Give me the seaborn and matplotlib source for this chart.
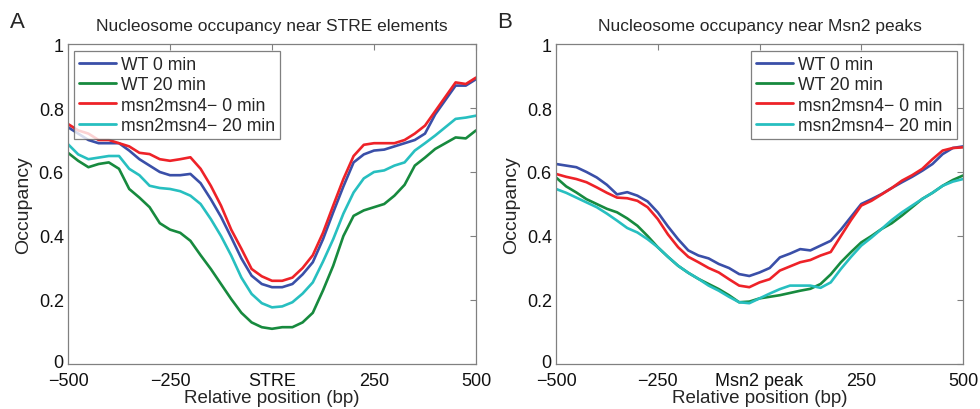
import numpy as np
import pandas as pd
import matplotlib
matplotlib.use("Agg")
import matplotlib.pyplot as plt
import matplotlib.transforms as mtransforms
import seaborn as sns

positions = list(range(-500, 501, 25))

series_names = ["WT 0 min", "WT 20 min", "msn2msn4\u2212 0 min", "msn2msn4\u2212 20 min"]

stre_wt0 = [0.74, 0.72, 0.70, 0.69, 0.69, 0.69, 0.667, 0.64, 0.62, 0.60,
            0.59, 0.59, 0.594, 0.565, 0.515, 0.46, 0.396, 0.33, 0.276, 0.25,
            0.24, 0.24, 0.25, 0.28, 0.318, 0.39, 0.474, 0.555, 0.63, 0.655,
            0.667, 0.67, 0.68, 0.69, 0.70, 0.72, 0.78, 0.825, 0.87, 0.87,
            0.89]
stre_wt20 = [0.66, 0.635, 0.615, 0.625, 0.63, 0.61, 0.547, 0.52, 0.49, 0.44,
             0.42, 0.41, 0.385, 0.34, 0.297, 0.25, 0.203, 0.16, 0.13, 0.115,
             0.11, 0.115, 0.115, 0.13, 0.16, 0.23, 0.307, 0.40, 0.463, 0.48,
             0.49, 0.50, 0.526, 0.56, 0.62, 0.645, 0.672, 0.69, 0.708, 0.705,
             0.73]
stre_msn0 = [0.75, 0.73, 0.72, 0.70, 0.70, 0.69, 0.68, 0.66, 0.656, 0.64,
             0.635, 0.64, 0.646, 0.61, 0.557, 0.495, 0.42, 0.36, 0.297, 0.274,
             0.26, 0.26, 0.27, 0.30, 0.34, 0.41, 0.495, 0.578, 0.65, 0.685,
             0.69, 0.69, 0.69, 0.70, 0.72, 0.745, 0.79, 0.835, 0.88, 0.875,
             0.895]
stre_msn20 = [0.687, 0.655, 0.64, 0.645, 0.65, 0.65, 0.61, 0.59, 0.557, 0.55,
              0.547, 0.54, 0.526, 0.50, 0.453, 0.40, 0.339, 0.27, 0.219, 0.19,
              0.177, 0.18, 0.193, 0.22, 0.255, 0.32, 0.39, 0.47, 0.536, 0.58,
              0.60, 0.605, 0.62, 0.63, 0.667, 0.69, 0.714, 0.74, 0.766, 0.77,
              0.776]

msn_wt0 = [0.625, 0.62, 0.615, 0.60, 0.583, 0.56, 0.53, 0.537, 0.526, 0.508,
           0.474, 0.43, 0.39, 0.355, 0.339, 0.33, 0.3125, 0.30, 0.281, 0.275,
           0.286, 0.30, 0.333, 0.345, 0.359, 0.355, 0.37, 0.385, 0.42, 0.46,
           0.50, 0.515, 0.531, 0.55, 0.568, 0.585, 0.604, 0.625, 0.656, 0.675,
           0.68]
msn_wt20 = [0.583, 0.555, 0.536, 0.515, 0.50, 0.485, 0.474, 0.455, 0.432, 0.40,
            0.365, 0.335, 0.307, 0.285, 0.266, 0.25, 0.234, 0.215, 0.193, 0.195,
            0.205, 0.21, 0.215, 0.222, 0.229, 0.235, 0.25, 0.28, 0.318, 0.35,
            0.38, 0.40, 0.422, 0.44, 0.464, 0.49, 0.516, 0.535, 0.557, 0.575,
            0.589]
msn_msn0 = [0.594, 0.585, 0.578, 0.568, 0.552, 0.535, 0.52, 0.518, 0.51, 0.49,
            0.453, 0.405, 0.365, 0.335, 0.318, 0.30, 0.286, 0.265, 0.245, 0.24,
            0.255, 0.265, 0.292, 0.305, 0.318, 0.325, 0.339, 0.35, 0.40, 0.45,
            0.495, 0.51, 0.53, 0.55, 0.573, 0.59, 0.61, 0.64, 0.667, 0.675,
            0.677]
msn_msn20 = [0.547, 0.535, 0.52, 0.505, 0.49, 0.47, 0.448, 0.425, 0.411, 0.39,
             0.365, 0.335, 0.307, 0.285, 0.266, 0.245, 0.229, 0.21, 0.193, 0.19,
             0.205, 0.22, 0.234, 0.245, 0.245, 0.245, 0.238, 0.255, 0.297, 0.335,
             0.37, 0.395, 0.422, 0.45, 0.474, 0.495, 0.516, 0.535, 0.557, 0.57,
             0.578]

x_ticks = [-500, -250, 0, 250, 500]
x_labels_a = ["\u2212500", "\u2212250", "STRE", "250", "500"]
x_labels_b = ["\u2212500", "\u2212250", "Msn2 peak", "250", "500"]
y_ticks = [0, 0.2, 0.4, 0.6, 0.8, 1]
y_labels = ["0", "0.2", "0.4", "0.6", "0.8", "1"]

titles = ["Nucleosome occupancy near STRE elements", "Nucleosome occupancy near Msn2 peaks"]
panel_letters = ["A", "B"]

colors = ["#3a4fa8", "#178a3e", "#ee2228", "#27bfc0"]

sns.set_theme(style="white")
plt.rcParams["font.family"] = ["Liberation Sans", "DejaVu Sans"]


def make_df(vals):
    rows = []
    for name, v in zip(series_names, vals):
        for p, y in zip(positions, v):
            rows.append({"pos": p, "occ": y, "series": name})
    return pd.DataFrame(rows)


df_a = make_df([stre_wt0, stre_wt20, stre_msn0, stre_msn20])
df_b = make_df([msn_wt0, msn_wt20, msn_msn0, msn_msn20])

fig = plt.figure(figsize=(9.8, 4.1), dpi=100)
ax_a = fig.add_axes([68/980, 45/410, 408/980, 320/410])
ax_b = fig.add_axes([556/980, 45/410, 407/980, 320/410])

for ax, df, xl, title, legloc in [
        (ax_a, df_a, x_labels_a, titles[0], (74, 52)),
        (ax_b, df_b, x_labels_b, titles[1], (751, 52))]:
    sns.lineplot(data=df, x="pos", y="occ", hue="series", hue_order=series_names,
                 palette=colors, linewidth=1.9, ax=ax, legend=True)
    ax.set_xlim(-500, 500)
    ax.set_ylim(0, 1)
    ax.set_xticks(x_ticks)
    ax.set_xticklabels(xl)
    ax.set_yticks(y_ticks)
    ax.set_yticklabels(y_labels)
    ax.tick_params(direction="in", length=4, width=0.8, color="#808080",
                   top=True, right=True, labelsize=13, labelcolor="#111111")
    ax.tick_params(axis="x", pad=5.5)
    ax.tick_params(axis="y", pad=3)
    # nudge the "0" y label up slightly so it does not collide with "-500"
    zero_lbl = ax.get_yticklabels()[0]
    zero_lbl.set_transform(zero_lbl.get_transform() +
                           mtransforms.ScaledTranslation(0, 2.5/72, fig.dpi_scale_trans))
    for s in ax.spines.values():
        s.set_color("#808080")
        s.set_linewidth(0.9)
    ax.set_xlabel("Relative position (bp)", fontsize=13.5, labelpad=0)
    ax.set_ylabel("Occupancy", fontsize=14, labelpad=5)
    ax.set_title(title, fontsize=12.5, pad=10)
    leg = ax.legend(loc="upper left", bbox_to_anchor=(0, 0), fontsize=12.7,
                    frameon=True, fancybox=False, handlelength=2.1,
                    handletextpad=0.25, labelspacing=0.18, borderpad=0.3,
                    borderaxespad=0)
    fr = leg.get_frame()
    fr.set_edgecolor("#606060")
    fr.set_linewidth(0.9)
    px, py = legloc
    inv = ax.transAxes.inverted()
    ax_x, ax_y = inv.transform((px, 410 - py))
    leg.set_bbox_to_anchor((ax_x, ax_y), transform=ax.transAxes)
    for line in leg.get_lines():
        line.set_linewidth(2.0)

fig.text(10/980, 1 - 22/410, "A", fontsize=16, va="center", ha="left")
fig.text(497/980, 1 - 22/410, "B", fontsize=16, va="center", ha="left")

fig.savefig("out.png", dpi=100)
